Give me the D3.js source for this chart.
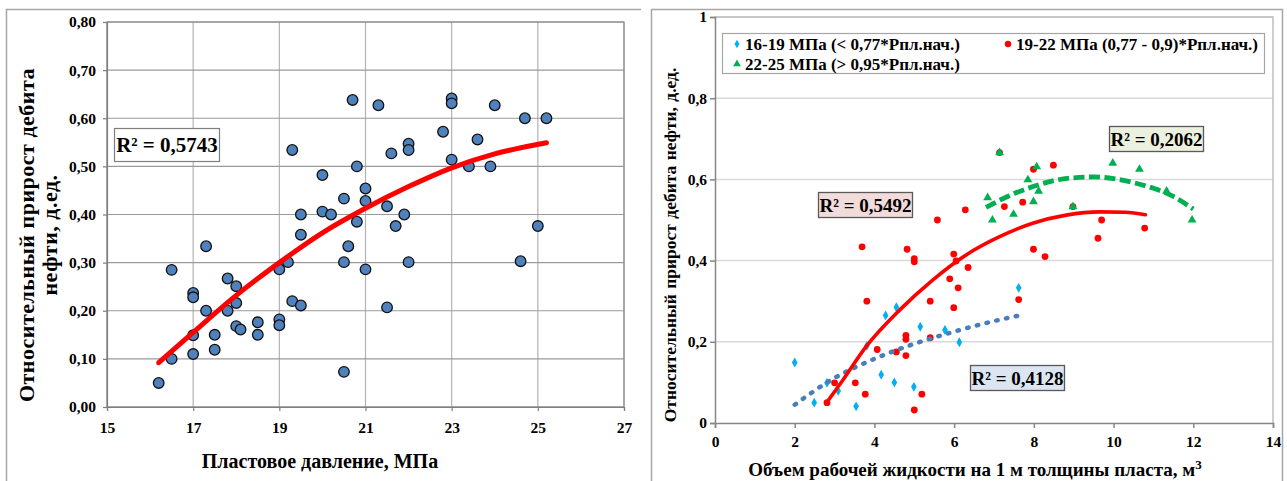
<!DOCTYPE html>
<html><head><meta charset="utf-8">
<script src="https://cdn.jsdelivr.net/npm/d3@7"></script>
<style>
html,body{margin:0;padding:0;background:#fff;overflow:hidden;}
svg text{font-family:"Liberation Serif","Times New Roman",serif;font-weight:bold;fill:#000;}
</style></head><body>
<svg id="c" width="1287" height="481"></svg>
<script>
// ---------- LEFT CHART DATA ----------
const leftX = [16.2,16.5,16.5,17,17,17,17,17.3,17.3,17.5,17.5,17.8,17.8,18,18,18,18.1,18.5,18.5,19,19,19,19.2,19.3,19.3,19.5,19.5,19.5,20,20,20.2,20.5,20.5,20.5,20.6,20.7,20.8,20.8,21,21,21,21.3,21.5,21.5,21.6,21.7,21.9,22,22,22,22.8,23,23,23,23.4,23.6,23.9,24,24.6,24.7,25,25.2];
const leftY = [0.05,0.285,0.10,0.237,0.228,0.149,0.11,0.334,0.20,0.15,0.119,0.267,0.20,0.251,0.216,0.168,0.161,0.176,0.15,0.286,0.182,0.17,0.301,0.534,0.22,0.40,0.358,0.211,0.482,0.406,0.40,0.433,0.301,0.073,0.334,0.638,0.50,0.385,0.454,0.428,0.286,0.627,0.417,0.207,0.527,0.376,0.40,0.547,0.534,0.301,0.572,0.641,0.631,0.514,0.50,0.556,0.50,0.627,0.303,0.60,0.376,0.60];
const leftTrendX = [16.2,17,18,19,20,21,22,23,24,25.2];
const leftTrendY = [0.092,0.155,0.232,0.300,0.362,0.413,0.458,0.497,0.526,0.549];
const leftXTicks = [15,17,19,21,23,25,27];
const leftYTicks = [0,0.1,0.2,0.3,0.4,0.5,0.6,0.7,0.8];
const leftYLabels = ["0,00","0,10","0,20","0,30","0,40","0,50","0,60","0,70","0,80"];
const leftR2 = "R² = 0,5743";
const leftXTitle = "Пластовое давление, МПа";
const leftYTitle = ["Относительный прирост  дебита","нефти,  д.ед."];

// ---------- RIGHT CHART DATA ----------
const cyanX = [2.0,2.49,2.81,3.09,3.54,3.81,4.17,4.28,4.50,4.55,4.99,5.15,5.77,6.13,7.62];
const cyanY = [0.149,0.050,0.099,0.079,0.041,0.19,0.119,0.265,0.10,0.285,0.089,0.237,0.229,0.199,0.333];
const redX = [2.81,3.0,3.52,3.77,3.69,3.81,4.07,4.55,4.82,4.79,4.79,4.79,5.0,5.0,5.0,5.19,5.40,5.40,5.58,5.89,5.99,5.99,6.05,6.10,6.35,6.28,7.14,7.99,8.49,7.26,7.72,8.98,7.99,8.28,7.62,9.70,9.61,10.78];
const redY = [0.050,0.099,0.099,0.071,0.434,0.30,0.181,0.175,0.428,0.216,0.206,0.166,0.405,0.397,0.032,0.071,0.30,0.21,0.50,0.355,0.416,0.284,0.399,0.333,0.383,0.525,0.666,0.625,0.635,0.533,0.544,0.533,0.428,0.41,0.304,0.50,0.455,0.48];
const greenX = [7.14,8.07,6.84,6.96,7.49,7.85,7.99,8.12,8.98,9.98,10.65,11.33,11.97];
const greenY = [0.666,0.631,0.555,0.50,0.514,0.599,0.545,0.571,0.533,0.640,0.625,0.571,0.50];
const blueTrendX = [2,3,4,5,6,7,7.6];
const blueTrendY = [0.045,0.111,0.158,0.195,0.225,0.251,0.264];
const redTrendX = [2.8,3.21,3.79,4.63,5.46,6.3,7.14,7.97,8.81,9.65,10.3,10.8];
const redTrendY = [0.05,0.106,0.188,0.278,0.352,0.414,0.459,0.492,0.512,0.520,0.519,0.513];
const greenTrendX = [6.8,7.5,8,8.5,9,9.5,10,10.5,11,11.5,12];
const greenTrendY = [0.531,0.565,0.583,0.597,0.604,0.606,0.602,0.592,0.578,0.558,0.527];
const rightXTicks = [0,2,4,6,8,10,12,14];
const rightYTicks = [0,0.2,0.4,0.6,0.8,1];
const rightYLabels = ["0","0,2","0,4","0,6","0,8","1"];
const legendLabels = ["16-19 МПа (< 0,77*Рпл.нач.)","19-22 МПа (0,77 - 0,9)*Рпл.нач.)","22-25 МПа (> 0,95*Рпл.нач.)"];
const r2Labels = ["R² = 0,4128","R² = 0,5492","R² = 0,2062"];
const rightXTitle = "Объем рабочей жидкости на 1 м толщины пласта, м";
const rightYTitle = "Относительный  прирост  дебита  нефти, д.ед.";

const svg = d3.select('#c');
svg.append('rect').attr('width',1287).attr('height',481).attr('fill','#fff');

// ================= LEFT CHART =================
const gL = svg.append('g');
gL.append('path').attr('d','M6.5,490 V9.5 H641').attr('fill','none').attr('stroke','#a6a6a6').attr('stroke-width',1.5);
const xL = d3.scaleLinear().domain([15,27]).range([107,624]);
const yL = d3.scaleLinear().domain([0,0.8]).range([407,22]);
gL.selectAll('.vg').data(leftXTicks).join('line')
  .attr('x1',d=>xL(d)).attr('x2',d=>xL(d)).attr('y1',yL(0.8)).attr('y2',yL(0))
  .attr('stroke','#b3b3b3').attr('stroke-width',1.2);
gL.selectAll('.hg').data(leftYTicks).join('line')
  .attr('x1',xL(15)).attr('x2',xL(27)).attr('y1',d=>yL(d)).attr('y2',d=>yL(d))
  .attr('stroke','#9a9a9a').attr('stroke-width',1.2);
gL.append('rect').attr('x',xL(15)).attr('y',yL(0.8)).attr('width',xL(27)-xL(15)).attr('height',yL(0)-yL(0.8))
  .attr('fill','none').attr('stroke','#8c8c8c').attr('stroke-width',1.2);
const axLy = gL.append('g').attr('transform',`translate(${xL(15)},0)`)
  .call(d3.axisLeft(yL).tickValues(leftYTicks).tickFormat((d,i)=>leftYLabels[i]).tickSize(4).tickPadding(7));
const axLx = gL.append('g').attr('transform',`translate(0,${yL(0)})`)
  .call(d3.axisBottom(xL).tickValues(leftXTicks).tickFormat(d=>d).tickSize(4).tickPadding(11));
[axLy,axLx].forEach(a=>{a.selectAll('path,line').attr('stroke','#7f7f7f').attr('stroke-width',1.2);
  a.selectAll('text').attr('font-size',15.5).style('font-family','"Liberation Serif",serif').style('font-weight','bold');});
gL.append('text').attr('x',320).attr('y',468).attr('text-anchor','middle').attr('font-size',20).text(leftXTitle);
leftYTitle.forEach((t,i)=>{
  gL.append('text').attr('transform',`translate(${26+i*23},235) rotate(-90)`).attr('text-anchor','middle')
    .attr('dominant-baseline','central').attr('font-size',22).attr('letter-spacing',0.5).text(t);
});
gL.selectAll('.pt').data(leftX.map((x,i)=>[x,leftY[i]])).join('circle')
  .attr('cx',d=>xL(d[0])).attr('cy',d=>yL(d[1])).attr('r',5.3)
  .attr('fill','#4f81bd').attr('stroke','#111').attr('stroke-width',1.3);
gL.append('path').datum(leftTrendX.map((x,i)=>[x,leftTrendY[i]]))
  .attr('d',d3.line().x(d=>xL(d[0])).y(d=>yL(d[1])).curve(d3.curveMonotoneX))
  .attr('fill','none').attr('stroke','#ff0000').attr('stroke-width',5).attr('stroke-linecap','round');
gL.append('rect').attr('x',114.5).attr('y',128.5).attr('width',105).attr('height',33)
  .attr('fill','#fff').attr('stroke','#7f7f7f').attr('stroke-width',1.2);
gL.append('text').attr('x',167).attr('y',145).attr('text-anchor','middle').attr('dominant-baseline','central')
  .attr('font-size',21).text(leftR2);

// ================= RIGHT CHART =================
const gR = svg.append('g');
gR.append('path').attr('d','M651.5,490 V9.5 H1282.5 V490').attr('fill','none').attr('stroke','#a6a6a6').attr('stroke-width',1.5);
const xR = d3.scaleLinear().domain([0,14]).range([715,1273]);
const yR = d3.scaleLinear().domain([0,1]).range([423,17]);
gR.selectAll('.hg').data(rightYTicks.filter(d=>d>0)).join('line')
  .attr('x1',xR(0)).attr('x2',xR(14)).attr('y1',d=>yR(d)).attr('y2',d=>yR(d))
  .attr('stroke','#d9d9d9').attr('stroke-width',1.5);
gR.append('path').attr('d',`M${xR(0)},${yR(1)} H${xR(14)} V${yR(0)}`).attr('fill','none').attr('stroke','#bfbfbf').attr('stroke-width',1.5);
const axRy = gR.append('g').attr('transform',`translate(${xR(0)},0)`)
  .call(d3.axisLeft(yR).tickValues(rightYTicks).tickFormat((d,i)=>rightYLabels[i]).tickSize(5).tickPadding(3));
const axRx = gR.append('g').attr('transform',`translate(0,${yR(0)})`)
  .call(d3.axisBottom(xR).tickValues(rightXTicks).tickFormat(d=>d).tickSize(5).tickPadding(8));
[axRy,axRx].forEach(a=>{a.selectAll('path,line').attr('stroke','#868686').attr('stroke-width',1.5);
  a.selectAll('text').attr('font-size',15.5).style('font-family','"Liberation Serif",serif').style('font-weight','bold');});
const xt = gR.append('text').attr('x',975).attr('y',476).attr('text-anchor','middle').attr('font-size',19).text(rightXTitle);
xt.append('tspan').attr('dy',-7).attr('font-size',13).text('3');
gR.append('text').attr('transform',`translate(670,245) rotate(-90)`).attr('text-anchor','middle')
  .attr('dominant-baseline','central').attr('font-size',17.5).attr('word-spacing',1).text(rightYTitle);

const diamond = d3.symbol().type(d3.symbolDiamond).size(28);
const tri = d3.symbol().type(d3.symbolTriangle).size(34);
gR.selectAll('.cy').data(cyanX.map((x,i)=>[x,cyanY[i]])).join('path')
  .attr('d',diamond).attr('transform',d=>`translate(${xR(d[0])},${yR(d[1])})`).attr('fill','#00b0f0');
gR.selectAll('.rd').data(redX.map((x,i)=>[x,redY[i]])).join('circle')
  .attr('cx',d=>xR(d[0])).attr('cy',d=>yR(d[1])).attr('r',3.4).attr('fill','#ff0000');
gR.selectAll('.gr').data(greenX.map((x,i)=>[x,greenY[i]])).join('path')
  .attr('d',tri).attr('transform',d=>`translate(${xR(d[0])},${yR(d[1])})`).attr('fill','#00b050');

const lineR = d3.line().x(d=>xR(d[0])).y(d=>yR(d[1])).curve(d3.curveMonotoneX);
gR.append('path').datum(blueTrendX.map((x,i)=>[x,blueTrendY[i]])).attr('d',lineR)
  .attr('fill','none').attr('stroke','#4a7ebb').attr('stroke-width',4.5).attr('stroke-linecap','round').attr('stroke-dasharray','1.5 8.5');
gR.append('path').datum(redTrendX.map((x,i)=>[x,redTrendY[i]])).attr('d',lineR)
  .attr('fill','none').attr('stroke','#ff0000').attr('stroke-width',3.6).attr('stroke-linecap','round');
gR.append('path').datum(greenTrendX.map((x,i)=>[x,greenTrendY[i]])).attr('d',lineR)
  .attr('fill','none').attr('stroke','#00b050').attr('stroke-width',4.8).attr('stroke-dasharray','11 4.5');

gR.append('rect').attr('x',722.5).attr('y',33.5).attr('width',542).attr('height',40)
  .attr('fill','#fff').attr('stroke','#a6a6a6').attr('stroke-width',1.2);
const legPos = [[737,44],[1008,44],[737,64]];
const legMark = [
  g=>g.append('path').attr('d',d3.symbol().type(d3.symbolDiamond).size(22)).attr('fill','#00b0f0'),
  g=>g.append('circle').attr('r',3.2).attr('fill','#ff0000'),
  g=>g.append('path').attr('d',d3.symbol().type(d3.symbolTriangle).size(26)).attr('fill','#00b050')
];
legendLabels.forEach((t,i)=>{
  const g = gR.append('g').attr('transform',`translate(${legPos[i][0]},${legPos[i][1]})`);
  legMark[i](g);
  g.append('text').attr('x',8).attr('y',0).attr('dominant-baseline','central').attr('font-size',17).text(t);
});

const r2Box = [[970.5,365.5,'#dce6f2'],[818.5,192.5,'#f2dcdb'],[1109.5,126.5,'#ebf1de']];
r2Labels.forEach((t,i)=>{
  const [bx,by,fill] = r2Box[i];
  gR.append('rect').attr('x',bx).attr('y',by).attr('width',94).attr('height',25)
    .attr('fill',fill).attr('stroke','#595959').attr('stroke-width',1.3);
  gR.append('text').attr('x',bx+47).attr('y',by+13).attr('text-anchor','middle').attr('dominant-baseline','central')
    .attr('font-size',19).text(t);
});
</script>
</body></html>
